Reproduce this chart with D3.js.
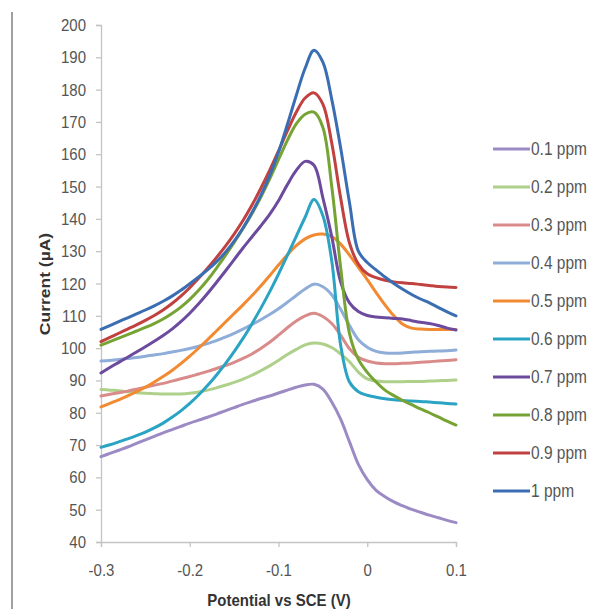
<!DOCTYPE html>
<html>
<head>
<meta charset="utf-8">
<script src="https://cdn.jsdelivr.net/npm/d3@7"></script>
<style>
  body { margin: 0; background: #ffffff; }
  svg { display: block; }
</style>
</head>
<body>
<script>
const potentials = [-0.30, -0.29, -0.28, -0.27, -0.26, -0.25, -0.24, -0.23, -0.22, -0.21,
  -0.20, -0.19, -0.18, -0.17, -0.16, -0.15, -0.14, -0.13, -0.12, -0.11,
  -0.10, -0.09, -0.08, -0.07, -0.06, -0.05, -0.04, -0.03, -0.02, -0.01,
  0.00, 0.01, 0.02, 0.03, 0.04, 0.05, 0.06, 0.07, 0.08, 0.09, 0.10];

const ppm01 = [66.4, 67.4, 68.4, 69.4, 70.5, 71.6, 72.7, 73.8, 74.8, 75.8,
  76.8, 77.7, 78.6, 79.6, 80.6, 81.6, 82.6, 83.5, 84.4, 85.2,
  86.1, 87.0, 87.9, 88.6, 88.8, 87.3, 83.3, 78.0, 71.0, 64.0,
  59.3, 56.0, 54.0, 52.4, 51.2, 50.1, 49.2, 48.3, 47.5, 46.7, 46.0];
const ppm02 = [87.2, 87.0, 86.8, 86.5, 86.2, 86.0, 85.9, 85.8, 85.8, 85.8,
  86.0, 86.4, 87.0, 87.7, 88.5, 89.4, 90.4, 91.6, 93.0, 94.5,
  96.2, 98.0, 99.6, 101.0, 101.6, 101.3, 100.2, 98.2, 95.8, 92.6,
  90.5, 89.8, 89.6, 89.6, 89.6, 89.7, 89.7, 89.8, 89.9, 90.0, 90.1];
const ppm03 = [85.2, 85.7, 86.2, 86.7, 87.3, 87.9, 88.5, 89.1, 89.8, 90.5,
  91.2, 92.0, 92.8, 93.7, 94.6, 95.6, 96.8, 98.2, 99.9, 101.8,
  104.0, 106.3, 108.4, 110.0, 110.8, 109.8, 107.6, 104.0, 99.8, 97.2,
  96.0, 95.4, 95.2, 95.2, 95.3, 95.4, 95.6, 95.8, 96.0, 96.2, 96.4];
const ppm04 = [96.0, 96.2, 96.5, 96.8, 97.1, 97.5, 97.9, 98.3, 98.8, 99.3,
  99.9, 100.6, 101.4, 102.3, 103.4, 104.6, 105.9, 107.3, 108.8, 110.4,
  112.2, 114.2, 116.3, 118.3, 119.8, 119.0, 116.5, 112.0, 107.0, 102.6,
  100.3, 99.0, 98.5, 98.4, 98.5, 98.7, 98.9, 99.0, 99.1, 99.2, 99.4];
const ppm05 = [81.8, 82.9, 84.0, 85.2, 86.5, 87.9, 89.5, 91.2, 93.1, 95.2,
  97.5, 100.0, 102.6, 105.3, 108.0, 110.7, 113.4, 116.2, 119.2, 122.4,
  125.7, 128.9, 131.7, 133.8, 135.0, 135.3, 134.5, 132.2, 128.8, 125.0,
  121.2, 117.2, 113.4, 110.0, 107.4, 106.2, 105.9, 105.8, 105.8, 105.8, 105.8];
const ppm06 = [69.3, 70.1, 71.0, 71.9, 72.9, 74.0, 75.3, 76.8, 78.6, 80.6,
  82.9, 85.5, 88.4, 91.6, 95.1, 98.9, 103.0, 107.5, 112.3, 117.4,
  122.9, 128.7, 134.6, 140.5, 146.0, 141.0, 127.0, 101.0, 89.5, 86.5,
  85.4, 84.8, 84.3, 84.0, 83.8, 83.6, 83.5, 83.3, 83.1, 82.9, 82.7];
const ppm07 = [92.3, 94.0, 95.6, 97.2, 98.8, 100.4, 102.1, 103.9, 105.9, 108.2,
  110.8, 113.7, 116.9, 120.3, 123.8, 127.4, 131.0, 134.4, 137.8, 141.4,
  145.6, 150.6, 155.0, 157.8, 156.6, 146.5, 134.5, 120.5, 114.0, 111.3,
  110.1, 109.6, 109.4, 109.2, 109.0, 108.5, 108.0, 107.6, 107.0, 106.2, 105.6];
const ppm08 = [100.9, 102.0, 103.1, 104.2, 105.3, 106.4, 107.6, 109.0, 110.7, 112.7,
  115.1, 117.9, 121.1, 124.7, 128.6, 132.7, 137.0, 141.6, 146.7, 152.3,
  158.3, 164.3, 169.4, 172.4, 173.0, 168.3, 150.0, 125.0, 104.5, 96.5,
  92.5, 89.5, 87.0, 85.3, 83.8, 82.5, 81.2, 80.0, 78.7, 77.4, 76.2];
const ppm09 = [102.0, 103.3, 104.6, 105.9, 107.2, 108.6, 110.1, 111.8, 113.8, 116.1,
  118.7, 121.6, 124.7, 128.0, 131.5, 135.3, 139.5, 144.2, 149.4, 155.0,
  161.0, 167.2, 173.0, 177.4, 179.0, 175.5, 163.5, 146.5, 132.5, 126.0,
  123.0, 121.8, 121.0, 120.5, 120.2, 120.0, 119.7, 119.4, 119.1, 118.9, 118.8];
const ppm10 = [105.8, 107.0, 108.2, 109.4, 110.6, 111.8, 113.1, 114.5, 116.1, 117.9,
  119.9, 122.0, 124.2, 126.7, 129.6, 133.1, 137.2, 141.9, 147.2, 153.3,
  160.6, 169.2, 178.2, 186.6, 192.2, 188.5, 177.0, 162.0, 145.0, 130.0,
  126.5, 124.2, 122.0, 120.0, 118.2, 116.6, 115.2, 114.0, 112.6, 111.2, 110.0];

const seriesNames = ["0.1 ppm", "0.2 ppm", "0.3 ppm", "0.4 ppm", "0.5 ppm",
  "0.6 ppm", "0.7 ppm", "0.8 ppm", "0.9 ppm", "1 ppm"];
const seriesValues = [ppm01, ppm02, ppm03, ppm04, ppm05, ppm06, ppm07, ppm08, ppm09, ppm10];
const currentTicks = [40, 50, 60, 70, 80, 90, 100, 110, 120, 130, 140, 150, 160, 170, 180, 190, 200];
const potentialTicks = [-0.3, -0.2, -0.1, 0, 0.1];

const width = 597;
const height = 609;
const font = "'Liberation Sans', Arial, sans-serif";
const stretch = "scale(1,1.15)";

const color = d3.scaleOrdinal()
    .domain(seriesNames)
    .range([
      "#9c8ac4",
      "#aed08a",
      "#d98b8a",
      "#8fadd9",
      "#f28a32",
      "#2ba3c3",
      "#6c4a9e",
      "#76a434",
      "#c0413f",
      "#3a6db1",
    ]);

const svg = d3.select("body")
    .append("svg")
    .attr("width", width)
    .attr("height", height)
    .attr("viewBox", [0, 0, width, height].join(" "));

// page border on the left
svg.append("line")
    .attr("x1", 12)
    .attr("x2", 12)
    .attr("y1", 12)
    .attr("y2", height)
    .attr("stroke", "#a0a0a0")
    .attr("stroke-width", 2);

const x = d3.scaleLinear()
    .domain([-0.3, 0.1])
    .range([101, 456]);

const y = d3.scaleLinear()
    .domain([40, 200])
    .range([542, 25]);

const yAxis = svg.append("g")
    .attr("transform", `translate(${x(-0.3)},0)`)
    .call(d3.axisLeft(y)
        .tickValues(currentTicks)
        .tickSize(5)
        .tickPadding(10)
        .tickFormat((d) => String(d)));

const xAxis = svg.append("g")
    .attr("transform", `translate(0,${y(40)})`)
    .call(d3.axisBottom(x)
        .tickValues(potentialTicks)
        .tickSize(5)
        .tickPadding(0)
        .tickFormat((d) => String(d)));

for (const axis of [xAxis, yAxis]) {
  axis.select(".domain")
      .attr("stroke", "#c4c4c4")
      .attr("stroke-width", 1.3);
  axis.selectAll(".tick line")
      .attr("stroke", "#c4c4c4")
      .attr("stroke-width", 1.3);
  axis.selectAll(".tick text")
      .attr("fill", "#555555")
      .attr("font-family", font)
      .attr("font-size", 15)
      .attr("transform", stretch);
}

xAxis.selectAll(".tick text")
    .attr("y", 24.5)
    .attr("dy", "0.35em");

const line = d3.line()
    .x((d) => x(d.potential))
    .y((d) => y(d.current))
    .curve(d3.curveCatmullRom.alpha(0.5));

const series = seriesNames.map((name, i) => ({
  name: name,
  points: potentials.map((potential, j) => ({
    potential: potential,
    current: seriesValues[i][j],
  })),
}));

svg.append("g")
    .selectAll("path")
    .data(series)
    .enter()
    .append("path")
    .attr("d", (d) => line(d.points))
    .attr("fill", "none")
    .attr("stroke", (d) => color(d.name))
    .attr("stroke-width", 3)
    .attr("stroke-linejoin", "round")
    .attr("stroke-linecap", "round");

// axis titles
svg.append("text")
    .attr("transform", `translate(279,600) ${stretch}`)
    .attr("text-anchor", "middle")
    .attr("dy", "0.35em")
    .attr("font-family", font)
    .attr("font-size", 15)
    .attr("font-weight", "bold")
    .attr("fill", "#333333")
    .text("Potential vs SCE (V)");

svg.append("text")
    .attr("transform", "translate(45,284) rotate(-90) scale(1.25,1)")
    .attr("text-anchor", "middle")
    .attr("dy", "0.35em")
    .attr("font-family", font)
    .attr("font-size", 14)
    .attr("font-weight", "bold")
    .attr("fill", "#333333")
    .text("Current (µA)");

// legend
const legend = svg.append("g")
    .selectAll(".legend")
    .data(seriesNames)
    .enter()
    .append("g")
    .attr("class", "legend")
    .attr("transform", (d, i) => `translate(493,${149 + i * 38})`);

legend.append("line")
    .attr("x1", 0)
    .attr("x2", 37)
    .attr("stroke", (d) => color(d))
    .attr("stroke-width", 3);

legend.append("text")
    .attr("transform", `translate(38,0) ${stretch}`)
    .attr("dy", "0.35em")
    .attr("font-family", font)
    .attr("font-size", 15.5)
    .attr("fill", "#555555")
    .text((d) => d);
</script>
</body>
</html>
